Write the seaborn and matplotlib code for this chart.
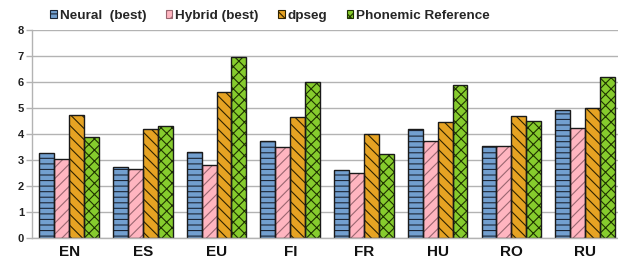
import matplotlib
matplotlib.use("Agg")
import matplotlib.pyplot as plt
import seaborn as sns
import pandas as pd
from matplotlib.patches import Patch

# chart values
languages = ["EN", "ES", "EU", "FI", "FR", "HU", "RO", "RU"]
series = ["Neural  (best)", "Hybrid (best)", "dpseg", "Phonemic Reference"]
neural = [3.26, 2.73, 3.30, 3.75, 2.62, 4.20, 3.54, 4.92]
hybrid = [3.03, 2.66, 2.81, 3.51, 2.51, 3.75, 3.54, 4.22]
dpseg = [4.75, 4.20, 5.61, 4.67, 3.99, 4.47, 4.71, 4.99]
phonemic = [3.88, 4.30, 6.96, 5.99, 3.23, 5.88, 4.52, 6.19]
y_ticks = [0, 1, 2, 3, 4, 5, 6, 7, 8]

colors = ["#729fcf", "#ffb5c0", "#e6a323", "#86cc2d"]
hatches = ["---", "///", "\\\\\\", "xxx"]
hatch_colors = ["#1c2636", "#9a6670", "#2e2200", "#1e3300"]

rows = []
for name, vals in zip(series, [neural, hybrid, dpseg, phonemic]):
    for lang, v in zip(languages, vals):
        rows.append({"Language": lang, "Series": name, "Value": v})
df = pd.DataFrame(rows)

sns.set_style("white")
plt.rcParams["font.family"] = ["Liberation Sans", "DejaVu Sans"]
plt.rcParams["hatch.linewidth"] = 0.8

fig = plt.figure(figsize=(6.18, 2.64), dpi=100)
ax = fig.add_axes([0.0523, 0.0973, 0.954, 0.789])

sns.barplot(data=df, x="Language", y="Value", hue="Series", order=languages,
            hue_order=series, palette=colors, width=0.81, saturation=1,
            linewidth=0, ax=ax, legend=False)

# hatch each series, bars are stored series by series
n = len(languages)
for i, bar in enumerate(ax.patches[:n * len(series)]):
    s = i // n
    bar.set_hatch(hatches[s])
    bar.set_edgecolor(hatch_colors[s])
    bar.set_linewidth(0)

# black outlines on top
sns.barplot(data=df, x="Language", y="Value", hue="Series", order=languages,
            hue_order=series, palette=["#1a1a1a"] * 4, width=0.81, fill=False,
            linewidth=1.0, ax=ax, legend=False)

ax.set_xlim(-0.5, len(languages) - 0.5)
ax.set_ylim(0, 8)
ax.set_yticks(y_ticks)
ax.set_yticklabels([str(t) for t in y_ticks], fontsize=8, fontweight="bold",
                   color="#222222")
ax.yaxis.grid(True, color="#b3b3b3", linewidth=1.0)
ax.set_axisbelow(True)
ax.set_xlabel("")
ax.set_ylabel("")
ax.set_xticks(range(len(languages)))
ax.set_xticklabels(languages, fontsize=11, fontweight="bold", color="#111111")
ax.set_xticks([i - 0.5 for i in range(len(languages) + 1)], minor=True)
ax.tick_params(axis="x", which="major", length=0, pad=5)
ax.tick_params(axis="x", which="minor", length=4, color="#b3b3b3", width=1)
ax.tick_params(axis="y", length=4, color="#b3b3b3", width=1, pad=2, left=True)

for side in ["top", "right"]:
    ax.spines[side].set_visible(False)
for side in ["left", "bottom"]:
    ax.spines[side].set_color("#b3b3b3")
    ax.spines[side].set_linewidth(1.0)

handles = [Patch(facecolor=c, edgecolor=hc, hatch=h, linewidth=0.8)
           for c, h, hc in zip(colors, hatches, hatch_colors)]
fig.legend(handles, series, loc="center", bbox_to_anchor=(0.437, 0.94), ncol=4,
           frameon=False, prop={"weight": "bold", "size": 9.7},
           handlelength=0.5, handleheight=0.5, handletextpad=0.2,
           columnspacing=1.45, borderaxespad=0)

fig.savefig("out.png", dpi=100)
